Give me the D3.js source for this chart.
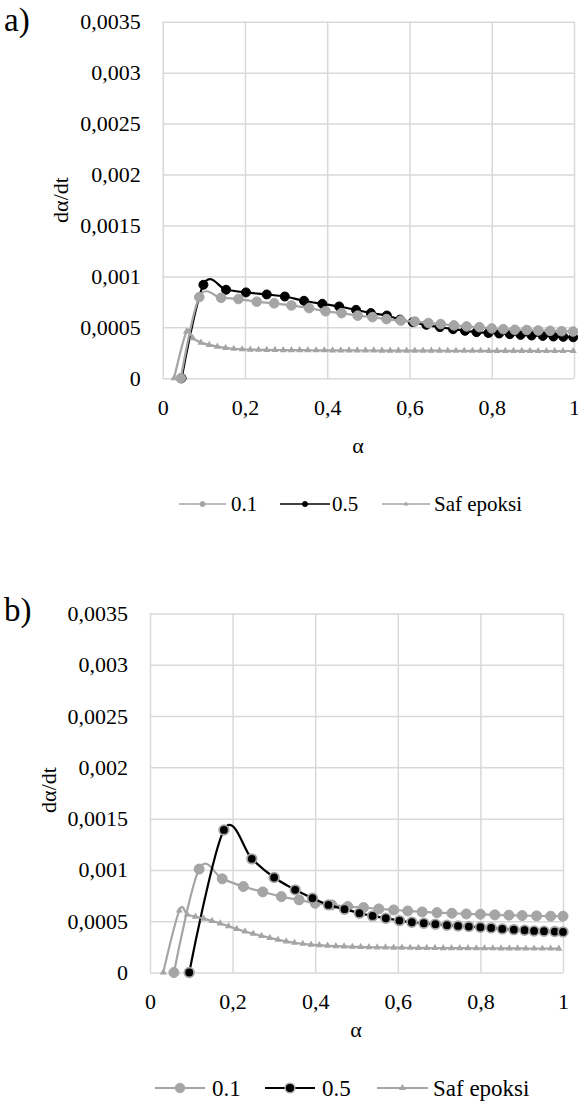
<!DOCTYPE html>
<html><head><meta charset="utf-8">
<script src="https://cdn.jsdelivr.net/npm/d3@7"></script>
<style>
html,body{margin:0;padding:0;background:#fff;}
</style></head>
<body>
<svg id="chart" width="578" height="1110"></svg>
<script>
// ---------- shared axis data ----------
const yTicks = [0, 0.0005, 0.001, 0.0015, 0.002, 0.0025, 0.003, 0.0035];
const yTickLabels = ["0", "0,0005", "0,001", "0,0015", "0,002", "0,0025", "0,003", "0,0035"];
const xTicks = [0, 0.2, 0.4, 0.6, 0.8, 1];
const xTickLabels = ["0", "0,2", "0,4", "0,6", "0,8", "1"];
const seriesNames = ["0.1", "0.5", "Saf epoksi"];

// ---------- chart a ----------
const a_alpha01 = [0.044, 0.089, 0.142, 0.184, 0.2285, 0.271, 0.313, 0.356, 0.396, 0.435, 0.474, 0.51, 0.544, 0.579, 0.613, 0.646, 0.676, 0.708, 0.739, 0.77, 0.8, 0.828, 0.856, 0.885, 0.913, 0.942, 0.97, 0.998];
const a_rate01  = [0, 0.000797, 0.00079, 0.000778, 0.000752, 0.000736, 0.000715, 0.000689, 0.000658, 0.00064, 0.000615, 0.0006, 0.000581, 0.000567, 0.000557, 0.000543, 0.000532, 0.000519, 0.000509, 0.000502, 0.000489, 0.000482, 0.000476, 0.000474, 0.000469, 0.000466, 0.000462, 0.000459];
const a_alpha05 = [0.046, 0.099, 0.154, 0.2025, 0.253, 0.297, 0.3435, 0.388, 0.429, 0.47, 0.506, 0.545, 0.577, 0.608, 0.641, 0.674, 0.706, 0.735, 0.763, 0.792, 0.818, 0.844, 0.87, 0.897, 0.924, 0.95, 0.974, 0.998];
const a_rate05  = [0, 0.000918, 0.000869, 0.000843, 0.000823, 0.000803, 0.000761, 0.000731, 0.000705, 0.000672, 0.00064, 0.000616, 0.000576, 0.000551, 0.000525, 0.000502, 0.000482, 0.000466, 0.000453, 0.000445, 0.00044, 0.000433, 0.000426, 0.00042, 0.000416, 0.00041, 0.000407, 0.000403];
const a_alphaSaf = [0.0275, 0.058, 0.073, 0.093, 0.113, 0.133, 0.153, 0.173, 0.193, 0.213, 0.233, 0.253, 0.273, 0.293, 0.313, 0.333, 0.353, 0.373, 0.393, 0.413, 0.433, 0.453, 0.473, 0.493, 0.513, 0.533, 0.553, 0.573, 0.593, 0.613, 0.633, 0.653, 0.673, 0.693, 0.713, 0.733, 0.753, 0.773, 0.793, 0.813, 0.833, 0.853, 0.873, 0.893, 0.913, 0.933, 0.953, 0.973, 0.998];
const a_rateSaf  = [0, 0.00046, 0.000394, 0.00035, 0.000328, 0.000311, 0.000298, 0.00029, 0.000285, 0.000282, 0.00028, 0.000279, 0.000278, 0.000277, 0.000277, 0.000276, 0.000276, 0.000275, 0.000275, 0.000274, 0.000274, 0.000274, 0.000273, 0.000273, 0.000273, 0.000272, 0.000272, 0.000272, 0.000272, 0.000271, 0.000271, 0.000271, 0.000271, 0.00027, 0.00027, 0.00027, 0.00027, 0.00027, 0.000269, 0.000269, 0.000269, 0.000269, 0.000269, 0.000269, 0.000268, 0.000268, 0.000268, 0.000268, 0.000268];

// ---------- chart b ----------
const b_alpha01 = [0.058, 0.119, 0.175, 0.226, 0.273, 0.318, 0.361, 0.4, 0.44, 0.479, 0.517, 0.554, 0.59, 0.624, 0.659, 0.695, 0.731, 0.766, 0.8, 0.835, 0.869, 0.901, 0.936, 0.97, 1.0];
const b_rate01  = [0, 0.001008, 0.000913, 0.000838, 0.000786, 0.00074, 0.000708, 0.000675, 0.000659, 0.000643, 0.000633, 0.00062, 0.00061, 0.0006, 0.000591, 0.000584, 0.000578, 0.000571, 0.000568, 0.000562, 0.000559, 0.000555, 0.000552, 0.000549, 0.000549];
const b_alpha05 = [0.095, 0.179, 0.2465, 0.3006, 0.3515, 0.3935, 0.432, 0.471, 0.507, 0.539, 0.571, 0.604, 0.634, 0.663, 0.691, 0.719, 0.746, 0.772, 0.8, 0.826, 0.853, 0.881, 0.907, 0.93, 0.954, 0.98, 1.0];
const b_rate05  = [0, 0.00139, 0.001108, 0.000926, 0.000806, 0.000724, 0.000659, 0.000617, 0.000578, 0.000552, 0.000529, 0.000506, 0.00049, 0.00048, 0.000471, 0.000461, 0.000454, 0.000448, 0.000441, 0.000435, 0.000425, 0.000418, 0.000412, 0.000405, 0.000402, 0.000399, 0.000396];
const b_alphaSaf = [0.032, 0.071, 0.09, 0.11, 0.13, 0.15, 0.17, 0.19, 0.21, 0.23, 0.25, 0.27, 0.29, 0.31, 0.33, 0.35, 0.37, 0.39, 0.41, 0.43, 0.45, 0.47, 0.49, 0.51, 0.53, 0.55, 0.57, 0.59, 0.61, 0.63, 0.65, 0.67, 0.69, 0.71, 0.73, 0.75, 0.77, 0.79, 0.81, 0.83, 0.85, 0.87, 0.89, 0.91, 0.93, 0.95, 0.97, 0.99];
const b_rateSaf  = [0, 0.000604, 0.000565, 0.000545, 0.000525, 0.000503, 0.000478, 0.000452, 0.000425, 0.0004, 0.000378, 0.000357, 0.000338, 0.00032, 0.000303, 0.00029, 0.00028, 0.000272, 0.000266, 0.000261, 0.000257, 0.000254, 0.000251, 0.000249, 0.000247, 0.000245, 0.000244, 0.000243, 0.000242, 0.000241, 0.00024, 0.000239, 0.000239, 0.000238, 0.000238, 0.000237, 0.000237, 0.000236, 0.000236, 0.000236, 0.000235, 0.000235, 0.000235, 0.000234, 0.000234, 0.000234, 0.000234, 0.000233];

const GRAY = "#A5A5A5", BLACK = "#000000", GRID = "#D9D9D9";
const FONT = "'Liberation Serif', 'Times New Roman', serif";
const svg = d3.select("#chart");

function zip(xs, ys){ return xs.map((x,i)=>[x, ys[i]]); }

function txt(sel, size){
  return sel.style("font-family", FONT).style("font-size", size + "px").style("fill", "#000");
}

function drawChart(cfg){
  const g = svg.append("g");
  const x = d3.scaleLinear().domain([0,1]).range([cfg.x0, cfg.x1]);
  const y = d3.scaleLinear().domain([0,0.0035]).range([cfg.yb, cfg.yt]);

  const ya = g.append("g").attr("transform", `translate(${cfg.x0},0)`)
    .call(d3.axisLeft(y).tickValues(yTicks).tickSize(-(cfg.x1-cfg.x0)).tickPadding(22)
      .tickFormat((d,i)=>yTickLabels[i]));
  ya.select(".domain").remove();
  ya.selectAll("line").attr("stroke", GRID).attr("stroke-width", 1.5);
  txt(ya.selectAll("text"), 22);

  const xa = g.append("g").attr("transform", `translate(0,${cfg.yb})`)
    .call(d3.axisBottom(x).tickValues(xTicks).tickSize(-(cfg.yb-cfg.yt)).tickPadding(21)
      .tickFormat((d,i)=>xTickLabels[i]));
  xa.select(".domain").remove();
  xa.selectAll("line").attr("stroke", GRID).attr("stroke-width", 1.5);
  txt(xa.selectAll("text"), 22);

  const line = d3.line().x(d=>x(d[0])).y(d=>y(d[1])).curve(d3.curveCardinal.tension(0));

  cfg.series.forEach(s=>{
    const data = zip(s.xs, s.ys);
    g.append("path").datum(data).attr("d", line).attr("fill","none")
      .attr("stroke", s.color).attr("stroke-width", 2.2);
    if (s.marker === "circle"){
      g.append("g").selectAll("circle").data(data).join("circle")
        .attr("cx", d=>x(d[0])).attr("cy", d=>y(d[1])).attr("r", s.r)
        .attr("fill", s.fill).attr("stroke", s.stroke).attr("stroke-width", s.sw);
    } else {
      g.append("g").selectAll("path").data(data).join("path")
        .attr("d", d3.symbol(d3.symbolTriangle, 22))
        .attr("transform", d=>`translate(${x(d[0])},${y(d[1])})`)
        .attr("fill", s.fill);
    }
  });

  txt(g.append("text").attr("x", cfg.labelX).attr("y", cfg.labelY), 33).text(cfg.label);
  txt(g.append("text").attr("transform", `translate(${cfg.ytX},${cfg.ytY}) rotate(-90)`)
    .attr("text-anchor","middle"), 22).text("dα/dt");
  txt(g.append("text").attr("x", cfg.xtX).attr("y", cfg.xtY).attr("text-anchor","middle"), 22).text("α");

  const lg = g.append("g");
  cfg.legend.forEach((it, i)=>{
    const s = cfg.series.find(ss=>ss.name===seriesNames[i]);
    lg.append("line").attr("x1", it.l1).attr("x2", it.l2).attr("y1", cfg.legY).attr("y2", cfg.legY)
      .attr("stroke", s.color).attr("stroke-width", cfg.legLW);
    const mx = (it.l1+it.l2)/2;
    if (s.marker === "circle"){
      lg.append("circle").attr("cx", mx).attr("cy", cfg.legY).attr("r", cfg.legR)
        .attr("fill", s.fill).attr("stroke", s.stroke).attr("stroke-width", s.sw*0.8);
    } else {
      lg.append("path").attr("d", d3.symbol(d3.symbolTriangle, cfg.legTri))
        .attr("transform", `translate(${mx},${cfg.legY})`).attr("fill", s.fill);
    }
    txt(lg.append("text").attr("x", it.t).attr("y", cfg.legY).attr("dy","0.35em"), cfg.legFS)
      .text(seriesNames[i]);
  });
}

drawChart({
  x0: 162.7, x1: 574, yt: 21.7, yb: 378.3,
  label: "a)", labelX: 4, labelY: 31,
  ytX: 68, ytY: 200, xtX: 358, xtY: 453,
  legY: 504, legFS: 21, legLW: 1.6, legR: 2.6, legTri: 10,
  legend: [{l1:179,l2:226,t:231},{l1:280,l2:330,t:332},{l1:382,l2:430,t:434}],
  series: [
    {name:"0.5", xs:a_alpha05, ys:a_rate05, color:BLACK, marker:"circle", r:4.5, fill:BLACK, stroke:BLACK, sw:1},
    {name:"0.1", xs:a_alpha01, ys:a_rate01, color:GRAY, marker:"circle", r:4.8, fill:GRAY, stroke:GRAY, sw:1},
    {name:"Saf epoksi", xs:a_alphaSaf, ys:a_rateSaf, color:GRAY, marker:"tri", fill:GRAY}
  ]
});

drawChart({
  x0: 150, x1: 563, yt: 613.5, yb: 972.5,
  label: "b)", labelX: 4, labelY: 621,
  ytX: 56, ytY: 790, xtX: 356, xtY: 1037,
  legY: 1088, legFS: 23, legLW: 2.2, legR: 4.8, legTri: 22,
  legend: [{l1:155,l2:205,t:212},{l1:265,l2:315,t:322},{l1:377,l2:428,t:433}],
  series: [
    {name:"0.1", xs:b_alpha01, ys:b_rate01, color:GRAY, marker:"circle", r:5, fill:GRAY, stroke:GRAY, sw:1},
    {name:"0.5", xs:b_alpha05, ys:b_rate05, color:BLACK, marker:"circle", r:4.8, fill:BLACK, stroke:GRAY, sw:1.8},
    {name:"Saf epoksi", xs:b_alphaSaf, ys:b_rateSaf, color:GRAY, marker:"tri", fill:GRAY}
  ]
});
</script>
</body></html>
